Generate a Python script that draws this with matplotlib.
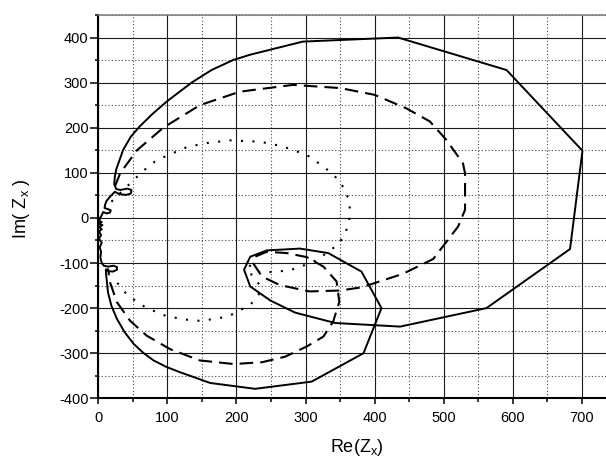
import matplotlib
matplotlib.use("Agg")
import matplotlib.pyplot as plt
from matplotlib.ticker import MultipleLocator

plt.rcParams['font.family'] = ['Liberation Sans', 'DejaVu Sans']
plt.rcParams['mathtext.fontset'] = 'custom'
plt.rcParams['mathtext.rm'] = 'Liberation Sans'
plt.rcParams['mathtext.it'] = 'Liberation Sans:italic'
plt.rcParams['axes.unicode_minus'] = False

# ---- data ----
solid_re = [2, 0, 5, 1, 6, 1, 5, 1, 4, 1, 5, 2, 4, 3, 5, 8, 14, 22, 27, 27, 21, 14,
            11, 11, 12, 14, 19, 27, 38, 51, 65, 80, 98, 118, 162, 227, 309, 384,
            410, 381, 333, 292, 244, 220, 211, 220, 249, 285, 343, 437, 562, 683,
            701, 591, 434, 296, 220, 195, 164, 135, 99, 78, 60, 47, 36, 30, 26, 24,
            23, 26, 32, 42, 48, 47, 40, 30, 24, 17, 12, 10, 9, 13, 18, 17, 12, 7,
            5, 2]
solid_im = [-2, -6, -9, -13, -16, -20, -25, -30, -38, -46, -55, -65, -75, -88, -100,
            -106, -108, -106, -109, -115, -119, -118, -114, -122, -135, -165, -195,
            -224, -253, -279, -299, -316, -330, -342, -366, -379, -363, -300, -200,
            -119, -78, -68, -72, -86, -115, -152, -183, -210, -233, -241, -200,
            -69, 149, 328, 400, 391, 362, 350, 328, 300, 258, 230, 203, 180, 151,
            125, 108, 92, 75, 64, 62, 65, 62, 54, 51, 53, 58, 47, 38, 30, 22, 20,
            17, 12, 10, 13, 6, -2]

dash_re = [24, 32, 56, 94, 147, 205, 282, 350, 400, 446, 480, 504, 528, 531, 531,
           521, 509, 485, 441, 381, 350, 306, 263, 237, 224, 227, 244, 273, 302,
           326, 345, 349, 340, 326, 302, 270, 237, 196, 147, 104, 70, 46, 27, 17, 14]
dash_im = [70, 100, 150, 200, 250, 280, 295, 288, 273, 243, 214, 173, 121, 99, 18,
           -19, -43, -91, -124, -154, -161, -163, -149, -130, -100, -86, -75, -78,
           -87, -108, -141, -186, -230, -263, -285, -308, -320, -324, -316, -291,
           -261, -228, -187, -143, -112]

dot_re = [19, 35, 51, 68, 82, 99, 113, 128, 157, 191, 234, 263, 282, 306, 335, 350,
          359, 364, 364, 363, 357, 348, 317, 287, 273, 258, 243, 228, 218, 222, 234,
          232, 220, 205, 190, 176, 159, 146, 130, 114, 99, 85, 70, 56, 41, 27]
dot_im = [36, 60, 84, 108, 125, 138, 147, 157, 166, 172, 169, 160, 151, 136, 103,
          81, 55, 33, 10, -12, -35, -58, -93, -112, -117, -119, -121, -119, -104,
          -128, -149, -171, -193, -205, -217, -222, -226, -228, -226, -222, -218,
          -209, -200, -186, -169, -143]

x_ticks = [0, 100, 200, 300, 400, 500, 600, 700]
y_ticks = [-400, -300, -200, -100, 0, 100, 200, 300, 400]

fig = plt.figure(figsize=(6.06, 4.58), dpi=100)
ax = fig.add_axes([98.3 / 606, 1 - 398.3 / 458, (616.3 - 98.3) / 606, (398.3 - 15) / 458])

ax.plot(solid_re, solid_im, color='black', lw=1.4, solid_joinstyle='round', zorder=5)
ax.plot(dash_re, dash_im, color='black', lw=1.5, linestyle=(0, (6.5, 3.4)), zorder=5)
ax.plot(dot_re, dot_im, color='black', lw=1.5, linestyle=(0, (1, 4.5)), zorder=5)

ax.set_xlim(0, 750)
ax.set_ylim(-400, 450)
ax.set_xticks(x_ticks)
ax.set_yticks(y_ticks)
ax.xaxis.set_minor_locator(MultipleLocator(50))
ax.yaxis.set_minor_locator(MultipleLocator(50))

ax.grid(which='major', color='#1a1a1a', lw=0.8, linestyle='-')
ax.grid(which='minor', color='#444444', lw=0.8, linestyle=(0, (1, 2)))
ax.set_axisbelow(True)

for s in ['left', 'bottom']:
    ax.spines[s].set_linewidth(1.5)
    ax.spines[s].set_color('black')
ax.spines['right'].set_visible(False)
ax.spines['top'].set_color('#7a7a7a')
ax.spines['top'].set_linewidth(1.1)

ax.tick_params(axis='x', which='major', direction='out', length=4.5, width=1.1, pad=5, labelsize=10.5)
ax.tick_params(axis='x', which='minor', direction='out', length=3, width=1.1)
ax.tick_params(axis='y', which='major', direction='out', length=6, width=1.1, pad=1, labelsize=10.5)
ax.tick_params(axis='y', which='minor', direction='out', length=2.2, width=1.1)

fig.text(356.7 / 606, 1 - 447 / 458, r'Re($\mathregular{Z_x}$)', ha='center', va='center', fontsize=13)
fig.text(21 / 606, 1 - 209 / 458, r'Im( $\mathregular{Z_x}$ )', ha='center', va='center',
         rotation=90, fontsize=13)

fig.savefig('out.png', dpi=100)
